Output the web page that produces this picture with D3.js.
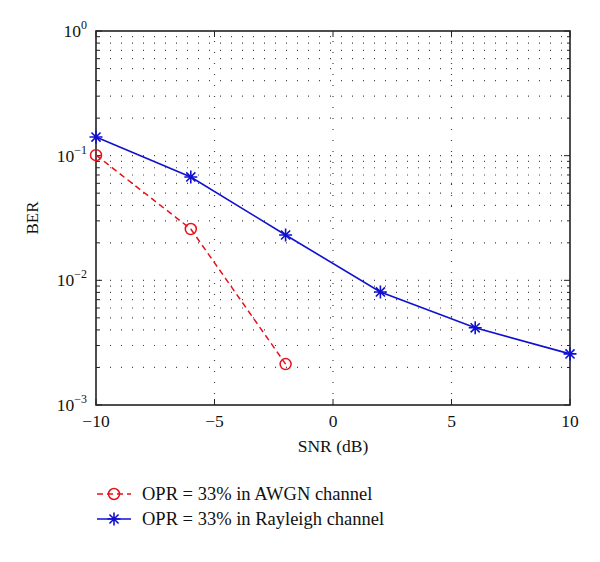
<!DOCTYPE html>
<html>
<head>
<meta charset="UTF-8">
<title>BER vs SNR</title>
<script src="https://cdn.jsdelivr.net/npm/d3@7"></script>
<style>
	body { margin: 0; padding: 0; background: #fff; }
	text { font-family: "Liberation Serif", "DejaVu Serif", serif; fill: #111; }
</style>
</head>
<body>
<script>
	// data
	var snr = [-10, -6, -2, 2, 6, 10];
	var awgnSnr = [-10, -6, -2];
	var awgnBer = [0.101, 0.0258, 0.00213];
	var rayleighBer = [0.141, 0.0675, 0.0231, 0.00807, 0.00416, 0.00257];
	var xTicks = [-10, -5, 0, 5, 10];
	var yTicks = [0, -3, -2, -1]; // exponents
	var legendLabels = ["OPR = 33% in AWGN channel", "OPR = 33% in Rayleigh channel"];

	var w = 600, h = 562;
	// note: "top" is taken by window.top, so use other names
	var padL = 96, padR = 570, padT = 31, padB = 405;

	var svg = d3.select("body").append("svg")
		.attr("width", w)
		.attr("height", h);

	var x = d3.scaleLinear().domain([-10, 10]).range([padL, padR]);
	var y = d3.scaleLog().domain([1e-3, 1]).range([padB, padT]);

	// dotted grid: minor horizontal lines for log scale, major vertical
	var grid = svg.append("g")
		.attr("stroke", "#444")
		.attr("stroke-width", 1.2)
		.attr("stroke-dasharray", "1,10");
	var hLines = [];
	for (var e = -3; e < 0; e++) {
		for (var m = 1; m <= 9; m++) {
			if (e === -3 && m === 1) continue;
			hLines.push(m * Math.pow(10, e));
		}
	}
	grid.selectAll("line.h").data(hLines).enter().append("line")
		.attr("x1", padL + 3).attr("x2", padR)
		.attr("y1", function(d) { return y(d); })
		.attr("y2", function(d) { return y(d); });
	grid.selectAll("line.v").data([-5, 0, 5]).enter().append("line")
		.attr("x1", function(d) { return x(d); })
		.attr("x2", function(d) { return x(d); })
		.attr("y1", padB).attr("y2", padT);

	// ticks inward on every side
	var ticks = svg.append("g").attr("stroke", "#222").attr("stroke-width", 1);
	var ySmall = hLines.concat([1e-3, 1]);
	ySmall.forEach(function(d) {
		var major = Math.abs(Math.log10(d) - Math.round(Math.log10(d))) < 1e-9;
		var len = major ? 6 : 3;
		ticks.append("line").attr("x1", padL).attr("x2", padL + len).attr("y1", y(d)).attr("y2", y(d));
		ticks.append("line").attr("x1", padR).attr("x2", padR - len).attr("y1", y(d)).attr("y2", y(d));
	});
	xTicks.forEach(function(d) {
		ticks.append("line").attr("x1", x(d)).attr("x2", x(d)).attr("y1", padB).attr("y2", padB - 6);
		ticks.append("line").attr("x1", x(d)).attr("x2", x(d)).attr("y1", padT).attr("y2", padT + 6);
	});

	// frame
	svg.append("rect")
		.attr("x", padL).attr("y", padT)
		.attr("width", padR - padL).attr("height", padB - padT)
		.attr("fill", "none").attr("stroke", "#222").attr("stroke-width", 1.6);

	// x tick labels
	svg.selectAll("text.xt").data(xTicks).enter().append("text")
		.attr("x", function(d) { return x(d); })
		.attr("y", padB + 22)
		.attr("text-anchor", "middle")
		.attr("font-size", 17.5)
		.text(function(d) { return d < 0 ? "\u2212" + Math.abs(d) : d; });

	// y tick labels 10^n
	yTicks.forEach(function(p) {
		var t = svg.append("text")
			.attr("x", padL - 9)
			.attr("y", y(Math.pow(10, p)) + 6)
			.attr("text-anchor", "end")
			.attr("font-size", 17.5);
		t.append("tspan").text("10");
		t.append("tspan").attr("dy", -8).attr("font-size", 12)
			.text(p < 0 ? "\u2212" + Math.abs(p) : p);
	});

	// axis titles
	svg.append("text")
		.attr("x", (padL + padR) / 2).attr("y", 452)
		.attr("text-anchor", "middle").attr("font-size", 17.5)
		.text("SNR (dB)");
	svg.append("text")
		.attr("transform", "translate(38," + ((padT + padB) / 2) + ") rotate(-90)")
		.attr("text-anchor", "middle").attr("font-size", 17)
		.text("BER");

	var line = d3.line()
		.x(function(d) { return x(d[0]); })
		.y(function(d) { return y(d[1]); });

	var awgn = awgnSnr.map(function(s, i) { return [s, awgnBer[i]]; });
	var ray = snr.map(function(s, i) { return [s, rayleighBer[i]]; });

	var red = "#e8101a", blue = "#1010d0";

	svg.append("path").datum(awgn).attr("d", line)
		.attr("fill", "none").attr("stroke", red)
		.attr("stroke-width", 1.5).attr("stroke-dasharray", "6,4");
	svg.append("path").datum(ray).attr("d", line)
		.attr("fill", "none").attr("stroke", blue)
		.attr("stroke-width", 1.6);

	function circleMark(g, cx, cy) {
		g.append("circle").attr("cx", cx).attr("cy", cy).attr("r", 5.5)
			.attr("fill", "none").attr("stroke", red).attr("stroke-width", 1.5);
	}
	function starMark(g, cx, cy) {
		var s = 6.5;
		var p = "M" + (cx - s) + "," + cy + "H" + (cx + s) +
			"M" + cx + "," + (cy - s) + "V" + (cy + s) +
			"M" + (cx - s * 0.7) + "," + (cy - s * 0.7) + "L" + (cx + s * 0.7) + "," + (cy + s * 0.7) +
			"M" + (cx - s * 0.7) + "," + (cy + s * 0.7) + "L" + (cx + s * 0.7) + "," + (cy - s * 0.7);
		g.append("path").attr("d", p).attr("stroke", blue).attr("stroke-width", 1.6).attr("fill", "none");
	}

	var marks = svg.append("g");
	awgn.forEach(function(d) { circleMark(marks, x(d[0]), y(d[1])); });
	ray.forEach(function(d) { starMark(marks, x(d[0]), y(d[1])); });

	// legend
	var legend = svg.append("g");
	var ly = [494, 519];
	legend.append("line").attr("x1", 97).attr("x2", 131).attr("y1", ly[0]).attr("y2", ly[0])
		.attr("stroke", red).attr("stroke-width", 1.5).attr("stroke-dasharray", "6,4");
	circleMark(legend, 114, ly[0]);
	legend.append("line").attr("x1", 97).attr("x2", 131).attr("y1", ly[1]).attr("y2", ly[1])
		.attr("stroke", blue).attr("stroke-width", 1.6);
	starMark(legend, 114, ly[1]);
	legendLabels.forEach(function(t, i) {
		legend.append("text").attr("x", 142).attr("y", ly[i] + 6)
			.attr("font-size", 18.5).text(t);
	});
</script>
</body>
</html>
